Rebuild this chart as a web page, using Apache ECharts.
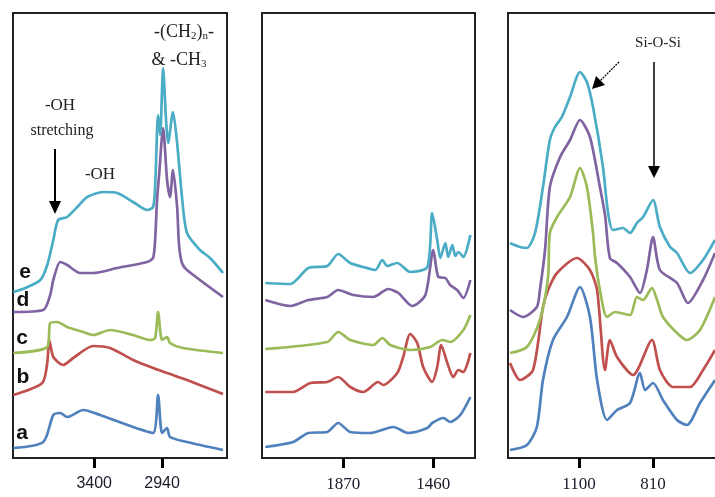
<!DOCTYPE html>
<html>
<head>
<meta charset="utf-8">
<script src="https://cdn.jsdelivr.net/npm/echarts@6/dist/echarts.min.js"></script>
<style>
  html, body { margin: 0; padding: 0; background: #fff; }
  #chart { width: 715px; height: 497px; }
</style>
</head>
<body>
<div id="chart"></div>
<script>
// FTIR spectra of samples a–e, split into three wavenumber windows (cm-1).
// Each point: [wavenumber, absorbance in arbitrary stacked units].

// Window 1: 3950 – 2500 cm-1
const hiA = [[3948,10],[3745,16],[3677,43],[3630,45],[3583,41],[3474,48],[3359,43],[3136,31],[3001,25],[2967,63],[2940,25],[2906,30],[2886,21],[2771,16],[2527,8]];
const hiB = [[3948,63],[3752,75],[3718,95],[3704,118],[3677,101],[3610,93],[3542,100],[3407,112],[3292,110],[3136,98],[3001,90],[2906,85],[2771,78],[2527,64]];
const hiC = [[3948,105],[3718,111],[3698,135],[3650,136],[3583,131],[3474,126],[3407,123],[3292,128],[3136,123],[3021,118],[2987,120],[2967,146],[2940,118],[2906,121],[2886,115],[2798,110],[2527,105]];
const hiD = [[3948,146],[3745,148],[3698,163],[3677,178],[3630,196],[3583,193],[3495,185],[3407,185],[3244,190],[3041,196],[3001,200],[2987,218],[2974,258],[2960,283],[2933,330],[2906,278],[2886,261],[2866,288],[2838,251],[2825,213],[2805,195],[2771,188],[2527,161]];
const hiE = [[3948,166],[3867,170],[3765,178],[3718,193],[3677,218],[3644,238],[3583,241],[3515,251],[3447,261],[3339,266],[3244,265],[3136,256],[3041,248],[3001,251],[2987,271],[2967,343],[2953,323],[2933,390],[2913,338],[2899,315],[2866,346],[2838,315],[2805,261],[2771,225],[2683,208],[2615,200],[2527,185]];

// Window 2: 2240 – 1270 cm-1
const midA = [[2225,11],[2098,16],[2029,25],[1943,26],[1893,35],[1838,26],[1747,25],[1642,31],[1574,25],[1487,30],[1465,35],[1414,40],[1383,36],[1337,43],[1291,61]];
const midB = [[2225,66],[2098,66],[2020,75],[1943,76],[1893,81],[1838,71],[1779,66],[1711,76],[1688,73],[1624,85],[1597,101],[1565,124],[1533,115],[1506,91],[1465,76],[1442,91],[1424,113],[1396,95],[1369,81],[1346,88],[1323,86],[1291,105]];
const midC = [[2225,109],[1943,116],[1893,126],[1838,118],[1733,113],[1692,120],[1656,113],[1565,108],[1474,111],[1419,118],[1383,116],[1323,128],[1291,143]];
const midD = [[2225,158],[2111,152],[2029,158],[1943,161],[1893,168],[1824,163],[1733,161],[1665,169],[1619,165],[1556,152],[1496,163],[1460,208],[1437,181],[1405,180],[1383,173],[1351,168],[1323,160],[1291,178]];
const midE = [[2225,175],[2111,174],[2029,190],[1943,192],[1893,204],[1838,195],[1779,191],[1724,188],[1692,198],[1670,192],[1624,195],[1565,186],[1487,191],[1465,245],[1442,218],[1428,200],[1405,215],[1392,201],[1373,213],[1360,202],[1346,206],[1323,201],[1291,223]];

// Window 3: 1380 – 530 cm-1
const lowA = [[1370,8],[1304,13],[1265,31],[1241,78],[1202,118],[1147,141],[1096,171],[1057,141],[1029,78],[990,38],[951,48],[900,55],[861,85],[841,68],[810,75],[771,58],[716,38],[677,33],[626,55],[567,78]];
const lowB = [[1370,95],[1331,78],[1280,88],[1241,151],[1221,168],[1186,185],[1108,200],[1057,188],[1029,168],[998,88],[979,118],[951,101],[888,83],[814,118],[783,88],[732,71],[665,71],[614,88],[567,108]];
const lowC = [[1370,105],[1304,111],[1253,138],[1221,181],[1214,225],[1186,241],[1135,261],[1096,290],[1069,271],[1045,225],[1037,201],[1018,168],[990,141],[959,146],[900,143],[873,161],[849,158],[814,170],[794,158],[771,141],[716,125],[677,118],[626,128],[567,161]];
const lowD = [[1370,148],[1319,141],[1265,151],[1253,168],[1233,208],[1214,271],[1174,301],[1135,318],[1096,338],[1057,321],[1018,271],[998,243],[979,200],[951,195],[900,181],[861,165],[834,188],[810,221],[783,188],[716,175],[673,155],[614,178],[567,205]];
const lowE = [[1370,215],[1331,211],[1304,210],[1272,225],[1241,271],[1214,318],[1194,331],[1167,341],[1135,361],[1096,386],[1069,376],[1045,351],[1006,291],[986,245],[967,228],[928,230],[900,225],[873,235],[849,241],[810,258],[783,231],[743,211],[716,205],[665,185],[614,198],[567,218]];

// Labelled wavenumbers on each window
const hiTicks = [3400, 2940];
const midTicks = [1870, 1460];
const lowTicks = [1100, 810];

const sampleNames = ['a', 'b', 'c', 'd', 'e'];
const sampleColors = ['#4f81bd', '#c0504d', '#9bbb59', '#8064a2', '#4bacc6'];

const windows = [
  { range: [2500, 3950], ticks: hiTicks, data: [hiA, hiB, hiC, hiD, hiE], left: 13, width: 214, font: 'Liberation Sans', size: 16 },
  { range: [1270, 2240], ticks: midTicks, data: [midA, midB, midC, midD, midE], left: 262, width: 213, font: 'Liberation Serif', size: 17 },
  { range: [528, 1378], ticks: lowTicks, data: [lowA, lowB, lowC, lowD, lowE], left: 508, width: 217, font: 'Liberation Serif', size: 17 }
];

const grids = [], xAxes = [], yAxes = [], series = [];
windows.forEach((w, i) => {
  grids.push({ left: w.left, top: 13, width: w.width, height: 445, show: true,
               outerBoundsMode: 'none', containLabel: false,
               borderColor: '#222', borderWidth: 2, backgroundColor: 'transparent' });
  xAxes.push({
    type: 'value', gridIndex: i, inverse: true, min: w.range[0], max: w.range[1],
    axisLine: { show: false }, splitLine: { show: false },
    axisTick: { show: true, customValues: w.ticks, length: 10, lineStyle: { color: '#000', width: 3 } },
    axisLabel: { show: true, customValues: w.ticks, margin: 18, fontSize: w.size,
                 fontFamily: w.font, color: '#1a1a2a', formatter: v => String(v) }
  });
  yAxes.push({ type: 'value', gridIndex: i, min: 0, max: 445, show: false });
  w.data.forEach((d, k) => {
    series.push({
      name: sampleNames[k] + i, type: 'line', xAxisIndex: i, yAxisIndex: i,
      data: d, showSymbol: false, smooth: 0.25, silent: true,
      lineStyle: { color: sampleColors[k], width: 2.7 }
    });
  });
});

const serif = 'Liberation Serif';
const sampleLabelPos = [[22, 433], [23, 377], [22, 338], [23, 300], [25, 272]];

const graphics = [];
sampleNames.forEach((n, k) => {
  graphics.push({ type: 'text', x: sampleLabelPos[k][0], y: sampleLabelPos[k][1], z: 100,
    style: { text: n, font: 'bold 21px "Liberation Sans"', fill: '#111',
             textAlign: 'center', textVerticalAlign: 'middle' } });
});

// Band annotations
graphics.push(
  { type: 'text', x: 184, y: 32, z: 100,
    style: { text: '-(CH{s|2}){s|n}-', font: '18px "Liberation Serif"', fill: '#222',
             textAlign: 'center', textVerticalAlign: 'middle',
             rich: { s: { fontSize: 11, fontFamily: serif, verticalAlign: 'bottom', padding: [8, 0, 0, 0] } } } },
  { type: 'text', x: 179, y: 60, z: 100,
    style: { text: '& -CH{s|3}', font: '18px "Liberation Serif"', fill: '#222',
             textAlign: 'center', textVerticalAlign: 'middle',
             rich: { s: { fontSize: 11, fontFamily: serif, verticalAlign: 'bottom', padding: [8, 0, 0, 0] } } } },
  { type: 'text', x: 60, y: 106, z: 100,
    style: { text: '-OH', font: '17px "Liberation Serif"', fill: '#222', textAlign: 'center', textVerticalAlign: 'middle' } },
  { type: 'text', x: 62, y: 131, z: 100,
    style: { text: 'stretching', font: '16px "Liberation Serif"', fill: '#222', textAlign: 'center', textVerticalAlign: 'middle' } },
  { type: 'text', x: 100, y: 175, z: 100,
    style: { text: '-OH', font: '17px "Liberation Serif"', fill: '#222', textAlign: 'center', textVerticalAlign: 'middle' } },
  { type: 'text', x: 658, y: 43, z: 100,
    style: { text: 'Si-O-Si', font: '15px "Liberation Serif"', fill: '#222', textAlign: 'center', textVerticalAlign: 'middle' } },
  // -OH stretching arrow
  { type: 'line', z: 100, shape: { x1: 55, y1: 149, x2: 55, y2: 206 }, style: { stroke: '#000', lineWidth: 2 } },
  { type: 'polygon', z: 100, shape: { points: [[49, 201], [61, 201], [55, 214]] }, style: { fill: '#000' } },
  // Si-O-Si arrows
  { type: 'line', z: 100, shape: { x1: 654, y1: 62, x2: 654, y2: 170 }, style: { stroke: '#000', lineWidth: 1.5 } },
  { type: 'polygon', z: 100, shape: { points: [[648, 166], [660, 166], [654, 178]] }, style: { fill: '#000' } },
  { type: 'line', z: 100, shape: { x1: 619, y1: 62, x2: 599, y2: 82 }, style: { stroke: '#000', lineWidth: 1.3, lineDash: [2, 1] } },
  { type: 'polygon', z: 100, shape: { points: [[592, 89], [605, 85], [596, 76]] }, style: { fill: '#000' } }
);

const chart = echarts.init(document.getElementById('chart'), null, { renderer: 'canvas' });
chart.setOption({
  animation: false,
  backgroundColor: '#fff',
  grid: grids,
  xAxis: xAxes,
  yAxis: yAxes,
  series: series,
  graphic: graphics
});
</script>
</body>
</html>
